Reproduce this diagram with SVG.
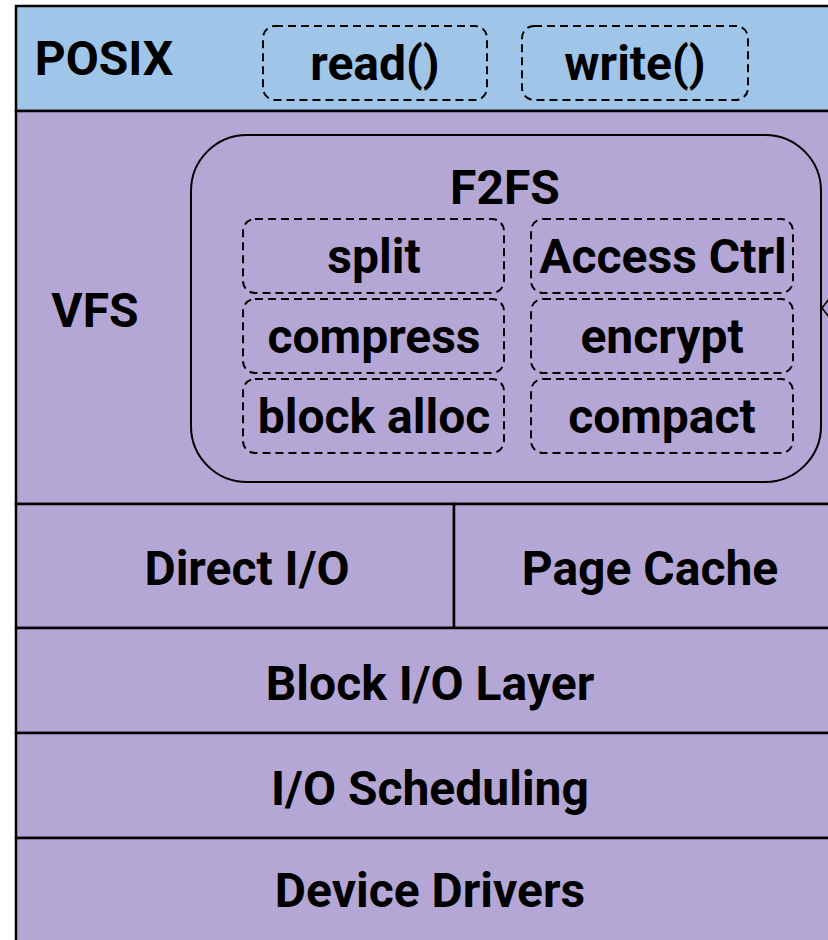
<svg xmlns="http://www.w3.org/2000/svg" width="828" height="940" viewBox="0 0 828 940">
  <style>
    .posix { fill: #9fc5e8; stroke: #000; stroke-width: 2.5; }
    .layer { fill: #b4a7d6; stroke: #000; stroke-width: 2.5; }
    .fs { fill: none; stroke: #000; stroke-width: 2; }
    .dash { fill: none; stroke: #000; stroke-width: 2; stroke-dasharray: 8 5; }
    .lbl { font-family: Roboto, "Liberation Sans", sans-serif; font-weight: bold; font-size: 48px; fill: #000; text-anchor: middle; }
  </style>
  <rect width="828" height="940" fill="#fff"/>

  <g id="posix">
    <rect class="posix" x="16" y="6" width="830" height="105"/>
    <text class="lbl" x="104" y="75">POSIX</text>
  </g>
  <g id="read">
    <rect class="dash" x="263" y="26" width="224" height="74" rx="12"/>
    <text class="lbl" x="375" y="80">read()</text>
  </g>
  <g id="write">
    <rect class="dash" x="522" y="26" width="226" height="74" rx="12"/>
    <text class="lbl" x="635" y="80">write()</text>
  </g>

  <g id="vfs">
    <rect class="layer" x="16" y="111" width="830" height="393"/>
    <text class="lbl" x="95" y="327">VFS</text>
  </g>
  <g id="f2fs">
    <rect class="fs" x="191" y="135" width="630" height="347" rx="56"/>
    <text class="lbl" x="505" y="204">F2FS</text>
  </g>
  <g id="split">
    <rect class="dash" x="243" y="219" width="261" height="74" rx="12"/>
    <text class="lbl" x="374" y="273">split</text>
  </g>
  <g id="access-ctrl">
    <rect class="dash" x="531" y="219" width="262" height="74" rx="12"/>
    <text class="lbl" x="663" y="273">Access Ctrl</text>
  </g>
  <g id="compress">
    <rect class="dash" x="243" y="299" width="261" height="74" rx="12"/>
    <text class="lbl" x="374" y="353">compress</text>
  </g>
  <g id="encrypt">
    <rect class="dash" x="531" y="299" width="262" height="74" rx="12"/>
    <text class="lbl" x="662" y="353">encrypt</text>
  </g>
  <g id="block-alloc">
    <rect class="dash" x="243" y="379" width="261" height="74" rx="12"/>
    <text class="lbl" x="374" y="433">block alloc</text>
  </g>
  <g id="compact">
    <rect class="dash" x="531" y="379" width="262" height="74" rx="12"/>
    <text class="lbl" x="662" y="433">compact</text>
  </g>

  <g id="direct-io">
    <rect class="layer" x="16" y="504" width="438" height="124"/>
    <text class="lbl" x="247" y="585">Direct I/O</text>
  </g>
  <g id="page-cache">
    <rect class="layer" x="454" y="504" width="392" height="124"/>
    <text class="lbl" x="650" y="585">Page Cache</text>
  </g>
  <g id="block-io">
    <rect class="layer" x="16" y="628" width="830" height="105"/>
    <text class="lbl" x="430" y="700">Block I/O Layer</text>
  </g>
  <g id="io-sched">
    <rect class="layer" x="16" y="733" width="830" height="105"/>
    <text class="lbl" x="430" y="805">I/O Scheduling</text>
  </g>
  <g id="drivers">
    <rect class="layer" x="16" y="838" width="830" height="110"/>
    <text class="lbl" x="430" y="907">Device Drivers</text>
  </g>

  <g id="connectors">
    <polyline points="829,299 822,308 829,317" fill="none" stroke="#000" stroke-width="1.6"/>
  </g>
</svg>
